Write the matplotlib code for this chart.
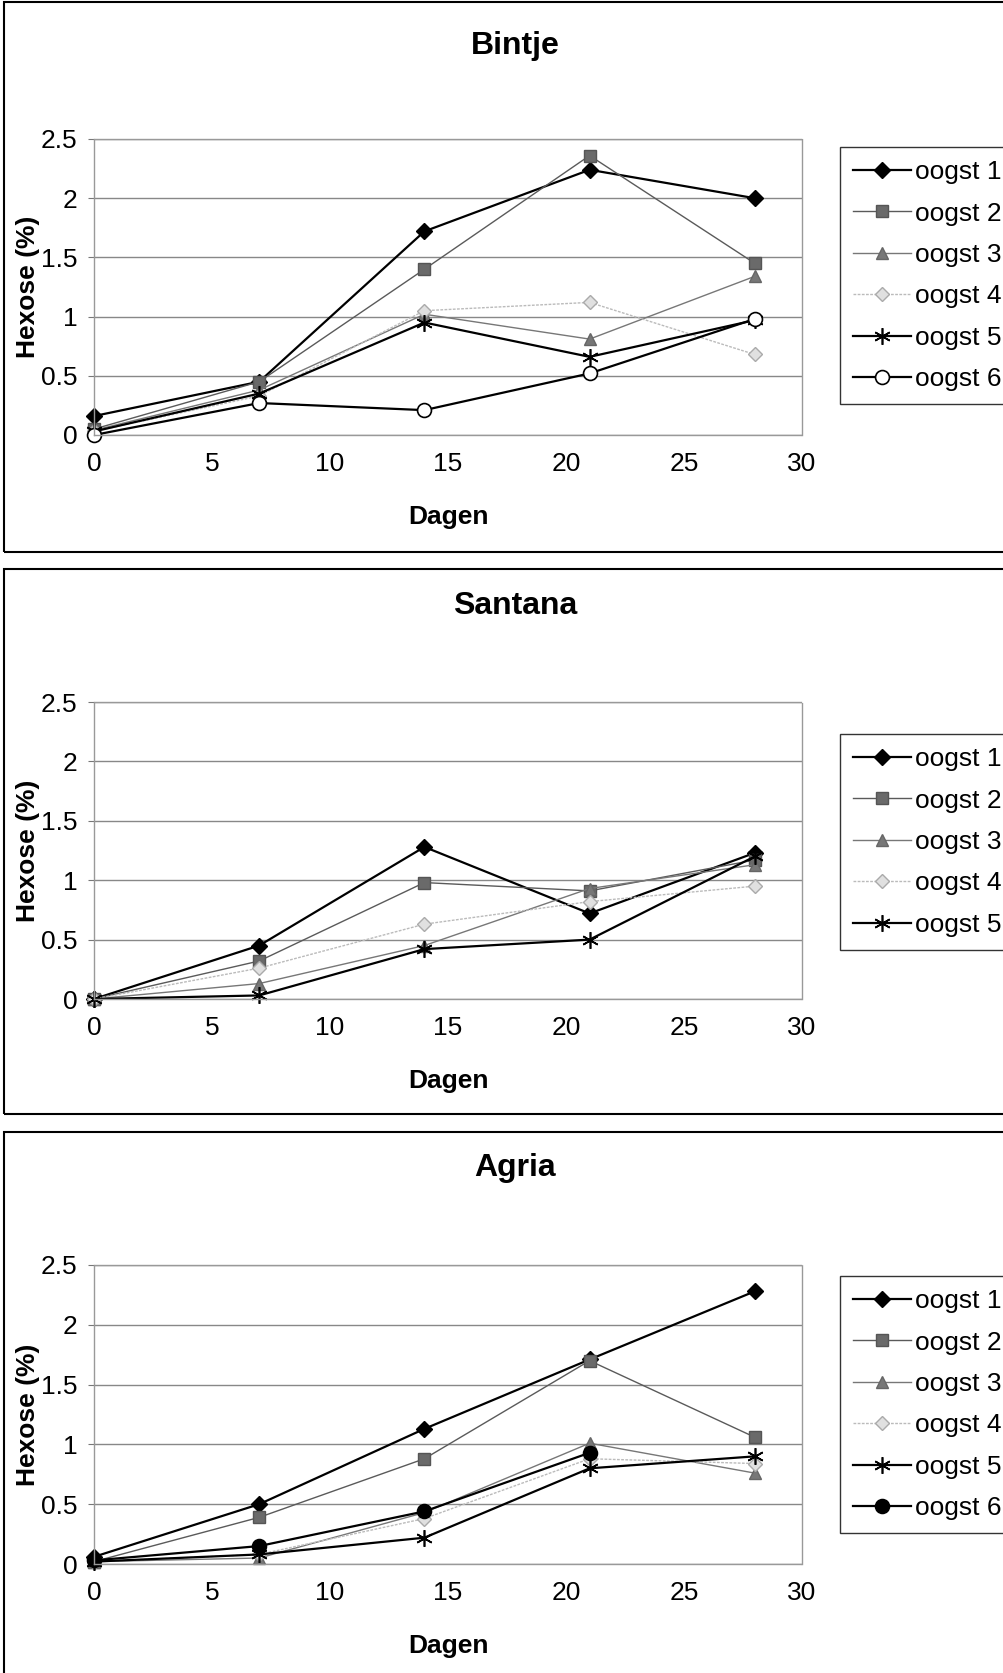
import numpy as np
from matplotlib import pyplot as plt
from matplotlib.patches import Rectangle

plt.rcParams['font.family'] = ['Liberation Sans', 'DejaVu Sans']

#%% Data
dagen = [0, 7, 14, 21, 28]
labels = ['oogst 1', 'oogst 2', 'oogst 3', 'oogst 4', 'oogst 5', 'oogst 6']

bintje = [
    [0.16, 0.45, 1.72, 2.24, 2.00],
    [0.05, 0.45, 1.40, 2.36, 1.45],
    [0.04, 0.38, 1.02, 0.81, 1.34],
    [0.03, 0.33, 1.05, 1.12, 0.68],
    [0.03, 0.35, 0.95, 0.66, 0.97],
    [0.00, 0.27, 0.21, 0.52, 0.98],
]
santana = [
    [0.00, 0.45, 1.28, 0.72, 1.23],
    [0.00, 0.32, 0.98, 0.91, 1.17],
    [0.00, 0.13, 0.45, 0.93, 1.13],
    [0.00, 0.26, 0.63, 0.82, 0.95],
    [0.00, 0.03, 0.42, 0.50, 1.20],
]
agria = [
    [0.06, 0.50, 1.13, 1.71, 2.28],
    [0.02, 0.39, 0.88, 1.70, 1.06],
    [0.02, 0.05, 0.43, 1.01, 0.76],
    [0.02, 0.08, 0.38, 0.88, 0.84],
    [0.02, 0.08, 0.22, 0.80, 0.90],
    [0.03, 0.15, 0.44, 0.93, np.nan],
]

#%% Styles
def styles(circle_fill):
    return [
        dict(color='black', lw=1.6, marker='D', ms=8, mfc='black', mec='black'),
        dict(color='#5a5a5a', lw=1.0, marker='s', ms=9, mfc='#6a6a6a', mec='#555555'),
        dict(color='#777777', lw=1.0, marker='^', ms=9, mfc='#777777', mec='#666666'),
        dict(color='#bbbbbb', lw=1.0, ls=(0, (2, 1)), marker='D', ms=7, mfc='#e0e0e0', mec='#aaaaaa'),
        dict(color='black', lw=1.6, marker=(6, 2, 0), ms=12, mec='black', mew=1.2),
        dict(color='black', lw=1.6, marker='o', ms=10, mfc=circle_fill, mec='black', mew=1.2),
    ]

W, H = 1004, 1673
fig = plt.figure(figsize=(W / 100, H / 100), dpi=100)

def fbox(x0, y0, x1, y1):
    return [x0 / W, 1 - y1 / H, (x1 - x0) / W, (y1 - y0) / H]

# title, data, circle fill, frame (top, bottom), axes (top, bottom), legend top, title y
panels = [
    ('Bintje', bintje, 'white', (2, 552), (139, 435), 147, 46),
    ('Santana', santana, 'white', (569, 1114), (702, 999), 734, 606),
    ('Agria', agria, 'black', (1132, 1700), (1265, 1564), 1276, 1168),
]

for title, data, cfill, frame, axy, legy, ty in panels:
    # panel frame
    fig.patches.append(Rectangle((4 / W, 1 - frame[1] / H), 1.2, (frame[1] - frame[0]) / H,
                                 transform=fig.transFigure, fill=False, ec='black', lw=1.5))
    ax = fig.add_axes(fbox(94, axy[0], 802, axy[1]))
    st = styles(cfill)
    for i, vals in enumerate(data):
        ax.plot(dagen, vals, label=labels[i], clip_on=False, **st[i])
    ax.set_xlim(0, 30)
    ax.set_ylim(0, 2.5)
    ax.set_xticks(range(0, 31, 5))
    ax.set_yticks([0, 0.5, 1, 1.5, 2, 2.5])
    ax.set_yticklabels(['0', '0.5', '1', '1.5', '2', '2.5'])
    ax.tick_params(labelsize=19, length=4, color='#777777')
    ax.tick_params(axis='x', length=0, pad=12)
    ax.tick_params(axis='y', pad=8)
    ax.grid(axis='y', color='#888888', lw=1.0)
    ax.set_axisbelow(True)
    for s in ax.spines.values():
        s.set_color('#999999')
        s.set_linestyle((0, (1, 1)))
        s.set_linewidth(1.0)
    ax.set_xlabel('Dagen', fontsize=19, fontweight='bold', labelpad=21)
    ax.set_ylabel('Hexose (%)', fontsize=19, fontweight='bold')
    ax.yaxis.set_label_coords(-0.076, 0.5)
    fig.text(515 / W, 1 - ty / H, title, fontsize=23, fontweight='bold',
             ha='center', va='center')
    leg = ax.legend(loc='upper left', bbox_to_anchor=(840 / W, 1 - legy / H),
                    bbox_transform=fig.transFigure, fontsize=19, frameon=True,
                    fancybox=False, edgecolor='black', handlelength=2.2,
                    labelspacing=0.66, borderpad=0.5, handletextpad=0.15,
                    borderaxespad=0)
    leg.get_frame().set_linewidth(1.0)

fig.savefig('out.png', dpi=100)
